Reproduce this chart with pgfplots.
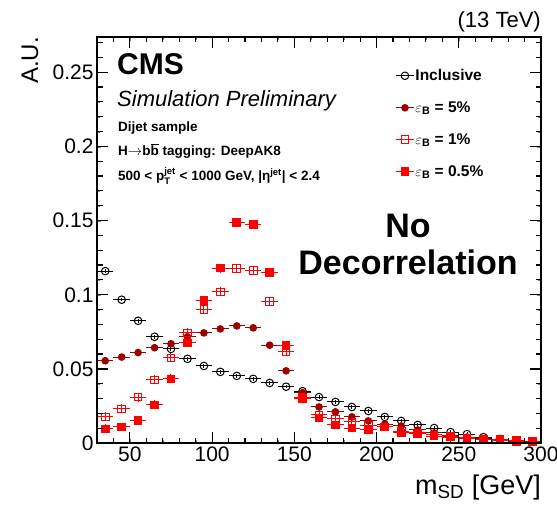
\documentclass[border=0pt]{standalone}
\usepackage{fontspec}
\usepackage{amsmath}
\setmainfont{Liberation Sans}
\usepackage{pgfplots}
\pgfplotsset{compat=1.18}
\definecolor{darkred}{RGB}{160,0,0}
\begin{document}
\begin{tikzpicture}
\useasboundingbox (-97pt,-61pt) rectangle (460pt,443pt);
\begin{axis}[
  at={(0pt,0pt)}, anchor=south west,
  scale only axis, width=444pt, height=406pt,
  xmin=30, xmax=300, ymin=0, ymax=0.274,
  xtick={50,100,...,300}, minor x tick num=4,
  ytick={0,0.05,...,0.25}, minor y tick num=4,
  scaled y ticks=false,
  /pgf/number format/assume math mode=true,
  yticklabel style={/pgf/number format/fixed,/pgf/number format/precision=2},
  tick label style={font=\fontsize{21}{21}\selectfont},
  tick align=inside,
  legend style={draw=none, fill=none, at={(0.665,0.928)}, anchor=north west,
    row sep=17.5pt, font=\fontsize{15.5}{17}\selectfont\bfseries,
    nodes={inner sep=1pt}},
  legend cell align=left,
  legend image code/.code={\draw[mark repeat=2,mark phase=2,#1,sharp plot] plot coordinates {(0pt,0pt)(9pt,0pt)(18pt,0pt)};},
]
\addplot[black, line width=1pt, only marks, mark=o, mark size=3.8pt,
  error bars/.cd, x dir=both, x fixed=5, y dir=both, y fixed=0.0012, error mark=none,
  error bar style={line width=1pt}] coordinates {
 (35,0.116) (45,0.0967) (55,0.0825) (65,0.0717) (75,0.0635) (85,0.0568) (95,0.052)
 (105,0.048) (115,0.0453) (125,0.0433) (135,0.0405) (145,0.038) (155,0.035) (165,0.031)
 (175,0.0277) (185,0.0243) (195,0.0216) (205,0.0176) (215,0.0149) (225,0.0122) (235,0.0101)
 (245,0.0074) (255,0.006) (265,0.004) (275,0.0027) (285,0.0014) (295,0.001)};
\addlegendentry{Inclusive}
\addplot[darkred, line width=1pt, only marks, mark=*, mark size=3.3pt,
  error bars/.cd, x dir=both, x fixed=5, y dir=both, y fixed=0.0015, error mark=none,
  error bar style={line width=1pt}] coordinates {
 (35,0.0555) (45,0.058) (55,0.061) (65,0.0643) (75,0.067) (85,0.0717) (95,0.0743)
 (105,0.077) (115,0.079) (125,0.0777) (135,0.066) (145,0.0487) (155,0.034) (165,0.0243)
 (175,0.021) (185,0.0176) (195,0.0149) (205,0.0128) (215,0.0115) (225,0.0088) (235,0.0068)
 (245,0.005) (255,0.004) (265,0.003) (275,0.0022) (285,0.0015) (295,0.001)};
\addlegendentry{$\varepsilon_{\text{B}}$ = 5\%}
\addplot[red, line width=1pt, only marks, mark=square, mark size=3.8pt,
  error bars/.cd, x dir=both, x fixed=5, y dir=both, y fixed=0.003, error mark=none,
  error bar style={line width=1pt}] coordinates {
 (35,0.0176) (45,0.023) (55,0.031) (65,0.0426) (75,0.0575) (85,0.0743) (95,0.090)
 (105,0.102) (115,0.1176) (125,0.1163) (135,0.0953) (145,0.0615) (155,0.031) (165,0.019)
 (175,0.0162) (185,0.0142) (195,0.012) (205,0.0108) (215,0.008) (225,0.0068) (235,0.0055)
 (245,0.0047) (255,0.0035) (265,0.0025) (275,0.002) (285,0.0012) (295,0.001)};
\addlegendentry{$\varepsilon_{\text{B}}$ = 1\%}
\addplot[red, line width=1pt, only marks, mark=square*, mark size=3.8pt,
  error bars/.cd, x dir=both, x fixed=5, y dir=both, y fixed=0.003, error mark=none,
  error bar style={line width=1pt}] coordinates {
 (35,0.0095) (45,0.0108) (55,0.015) (65,0.0257) (75,0.0433) (85,0.0676) (95,0.096)
 (105,0.118) (115,0.1487) (125,0.1474) (135,0.115) (145,0.0656) (155,0.030) (165,0.017)
 (175,0.0122) (185,0.0101) (195,0.0088) (205,0.0108) (215,0.0068) (225,0.0065) (235,0.0047)
 (245,0.004) (255,0.003) (265,0.0025) (275,0.0022) (285,0.0015) (295,0.001)};
\addlegendentry{$\varepsilon_{\text{B}}$ = 0.5\%}
\end{axis}
\begin{axis}[
  at={(0pt,0pt)}, anchor=south west,
  scale only axis, width=444pt, height=406pt,
  xmin=30, xmax=300, ymin=0, ymax=0.274,
  xtick=\empty, ytick=\empty,
  axis line style={line width=2.6pt},
  clip=false,
]
\pgfplotsinvokeforeach{40,50,...,290}{
  \draw[black, line width=1.2pt] (axis cs:#1,0) -- ++(0pt,5.5pt);
  \draw[black, line width=1.2pt] (axis cs:#1,0.274) -- ++(0pt,-5.5pt);
}
\pgfplotsinvokeforeach{50,100,...,250}{
  \draw[black, line width=1.2pt] (axis cs:#1,0) -- ++(0pt,11pt);
  \draw[black, line width=1.2pt] (axis cs:#1,0.274) -- ++(0pt,-11pt);
}
\pgfplotsinvokeforeach{0.01,0.02,...,0.27}{
  \draw[black, line width=1.2pt] (axis cs:30,#1) -- ++(5.5pt,0pt);
  \draw[black, line width=1.2pt] (axis cs:300,#1) -- ++(-5.5pt,0pt);
}
\pgfplotsinvokeforeach{0.05,0.1,0.15,0.2,0.25}{
  \draw[black, line width=1.2pt] (axis cs:30,#1) -- ++(11pt,0pt);
  \draw[black, line width=1.2pt] (axis cs:300,#1) -- ++(-11pt,0pt);
}
\end{axis}
\node[anchor=base west, font=\fontsize{30}{30}\selectfont\bfseries, inner sep=0] at (20pt,368pt) {CMS};
\node[anchor=base west, font=\fontsize{22}{22}\selectfont\itshape, inner sep=0] at (20pt,336pt) {Simulation Preliminary};
\node[anchor=base west, font=\fontsize{13.5}{13.5}\selectfont\bfseries, inner sep=0] at (21pt,311pt) {Dijet sample};
\node[anchor=base west, font=\fontsize{13.5}{13.5}\selectfont\bfseries, inner sep=0] at (21pt,287pt) {H\(\rightarrow\)b\(\overline{\text{b}}\) tagging: DeepAK8};
\node[anchor=base west, font=\fontsize{13.5}{13.5}\selectfont\bfseries, inner sep=0] at (21pt,262pt) {500 < p\(^{\text{jet}}_{\text{T}}\) < 1000 GeV, |η\(^{\text{jet}}\)| < 2.4};
\node[font=\fontsize{34}{34}\selectfont\bfseries, inner sep=0, anchor=base] at (311pt,206pt) {No};
\node[font=\fontsize{34}{34}\selectfont\bfseries, inner sep=0, anchor=base] at (311pt,168pt) {Decorrelation};
\node[anchor=base east, font=\fontsize{22}{22}\selectfont, inner sep=0] at (444pt,415pt) {(13 TeV)};
\node[rotate=90, anchor=east, font=\fontsize{24}{24}\selectfont, inner sep=0] at (-67pt,406pt) {A.U.};
\node[anchor=base east, font=\fontsize{27}{27}\selectfont, inner sep=0] at (444pt,-51pt) {m\(_{\text{SD}}\) [GeV]};
\end{tikzpicture}
\end{document}
